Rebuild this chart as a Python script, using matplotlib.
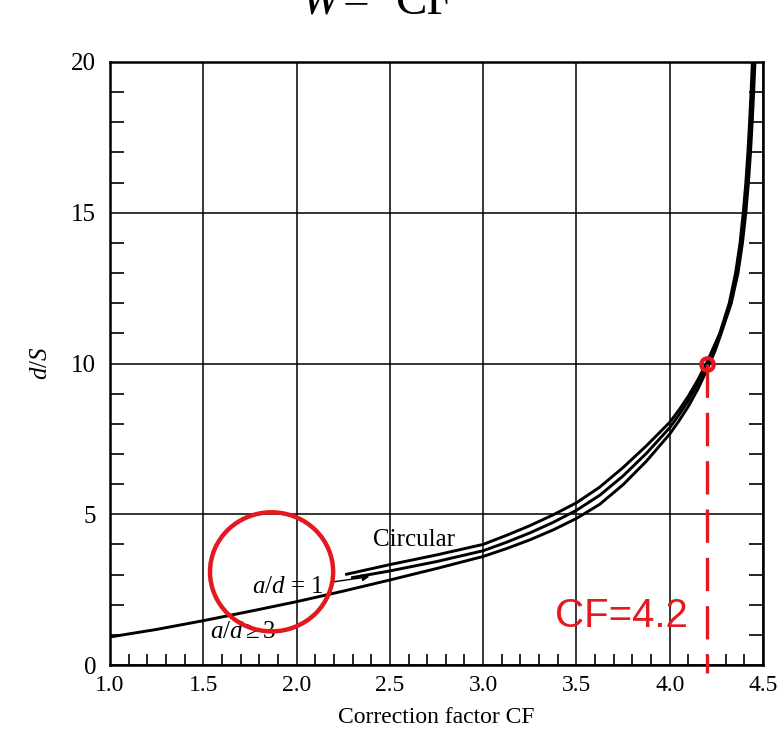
import matplotlib
matplotlib.use("Agg")
import matplotlib.pyplot as plt
from matplotlib.patches import Ellipse
from matplotlib.ticker import MultipleLocator

plt.rcParams['font.family'] = ['Liberation Serif', 'DejaVu Serif']
plt.rcParams['mathtext.fontset'] = 'custom'
plt.rcParams['mathtext.rm'] = 'Liberation Serif'
plt.rcParams['mathtext.it'] = 'Liberation Serif:italic'

RED = '#e3191f'

# curves (CF, d/S)
cf_low = [1.0, 1.25, 1.5, 1.75, 2.0, 2.25, 2.5, 2.75, 3.0, 3.125, 3.25, 3.375, 3.5, 3.625,
          3.75, 3.875, 4.0, 4.05, 4.1, 4.15, 4.2, 4.245, 4.276, 4.330, 4.366, 4.390, 4.408,
          4.422, 4.433, 4.442, 4.450, 4.457]
ds_low = [0.93, 1.18, 1.47, 1.78, 2.10, 2.45, 2.82, 3.20, 3.60, 3.86, 4.15, 4.48, 4.86, 5.33,
          5.98, 6.76, 7.66, 8.10, 8.58, 9.14, 9.80, 10.45, 11, 12, 13, 14, 15,
          16, 17, 18, 19, 20]

cf_mid = [2.30, 2.5, 2.75, 3.0, 3.125, 3.25, 3.375, 3.5, 3.625, 3.75, 3.875, 4.0, 4.05, 4.1,
          4.15, 4.2, 4.24, 4.272, 4.325, 4.360, 4.384, 4.401, 4.415, 4.426, 4.435, 4.443, 4.450]
ds_mid = [2.90, 3.12, 3.43, 3.79, 4.07, 4.38, 4.73, 5.13, 5.63, 6.27, 7.02, 7.87, 8.30, 8.77,
          9.33, 9.97, 10.55, 11, 12, 13, 14, 15, 16, 17, 18, 19, 20]

cf_circ = [2.268, 2.5, 2.75, 3.0, 3.125, 3.25, 3.375, 3.5, 3.625, 3.75, 3.875, 4.0, 4.05, 4.1,
           4.15, 4.2, 4.236, 4.268, 4.319, 4.353, 4.377, 4.394, 4.408, 4.419, 4.428, 4.436, 4.443]
ds_circ = [3.01, 3.33, 3.65, 4.00, 4.30, 4.62, 4.98, 5.38, 5.90, 6.55, 7.27, 8.05, 8.46, 8.92,
           9.45, 10.05, 10.55, 11, 12, 13, 14, 15, 16, 17, 18, 19, 20]

cf_pick = 4.2
ds_pick = 10.0

# hand-drawn highlight round the a/d labels
circle_xy = (1.866, 3.09)
circle_w, circle_h = 0.66, 3.95

fig = plt.figure(figsize=(7.82, 7.31), dpi=100)
ax = fig.add_axes([110 / 782, 1 - 665 / 731, 653 / 782, 603 / 731])

for cf, ds in [(cf_low, ds_low), (cf_mid, ds_mid), (cf_circ, ds_circ)]:
    ax.plot(cf, ds, color='black', lw=2.1, zorder=3)

ax.set_xlim(1.0, 4.5)
ax.set_ylim(0, 20)
ax.set_xticks([1.0, 1.5, 2.0, 2.5, 3.0, 3.5, 4.0, 4.5])
ax.set_xticklabels(['1.0', '1.5', '2.0', '2.5', '3.0', '3.5', '4.0', '4.5'])
ax.set_yticks([0, 5, 10, 15, 20])
ax.xaxis.set_minor_locator(MultipleLocator(0.1))
ax.yaxis.set_minor_locator(MultipleLocator(1))
ax.grid(True, which='major', color='black', lw=1.1)
ax.tick_params(axis='x', which='major', direction='in', length=0, labelsize=17, pad=7)
ax.tick_params(axis='y', which='major', direction='in', length=0, labelsize=18, pad=10)
ax.tick_params(axis='x', which='minor', direction='in', length=8, width=1.2, top=False)
ax.tick_params(axis='y', which='minor', direction='in', length=10, width=1.2, left=True, right=True)
for sp in ax.spines.values():
    sp.set_linewidth(1.8)

ax.set_xlabel('Correction factor CF', fontsize=17, labelpad=8)
ax.set_ylabel('$d/S$', fontsize=18, labelpad=14)

ax.text(2.407, 3.95, 'Circular', fontsize=18)
ax.text(1.759, 2.39, '$a/d$ = 1', fontsize=18)
ax.text(1.536, 0.9, r'$a/d \geq 3$', fontsize=18)
ax.annotate('', xy=(2.39, 2.93), xytext=(2.20, 2.76),
            arrowprops=dict(arrowstyle='-|>', color='black', lw=1.0,
                            mutation_scale=10, shrinkA=0, shrinkB=0))

# red highlight
ax.add_patch(Ellipse(circle_xy, circle_w, circle_h, fill=False, ec=RED, lw=3.2, zorder=6))
ax.plot([cf_pick, cf_pick], [ds_pick, -0.25], color=RED, lw=2.4, dashes=(10, 4.5),
        clip_on=False, zorder=6)
ax.plot([cf_pick], [ds_pick], 'o', ms=9, mfc='none', mec=RED, mew=3, zorder=7)
ax.text(3.383, 1.26, 'CF=4.2', color=RED, fontsize=29, family='Liberation Sans', zorder=7)

# formula cropped off at the top of the slide
fig.text(300 / 782, 1 - 14 / 731, '$W$', fontsize=34, va='baseline')
fig.text(343 / 782, 1 - 14 / 731, '=', fontsize=34, va='baseline')
fig.text(395 / 782, 1 - 14 / 731, 'CF', fontsize=34, va='baseline')

fig.savefig('out.png', dpi=100, facecolor='white')
